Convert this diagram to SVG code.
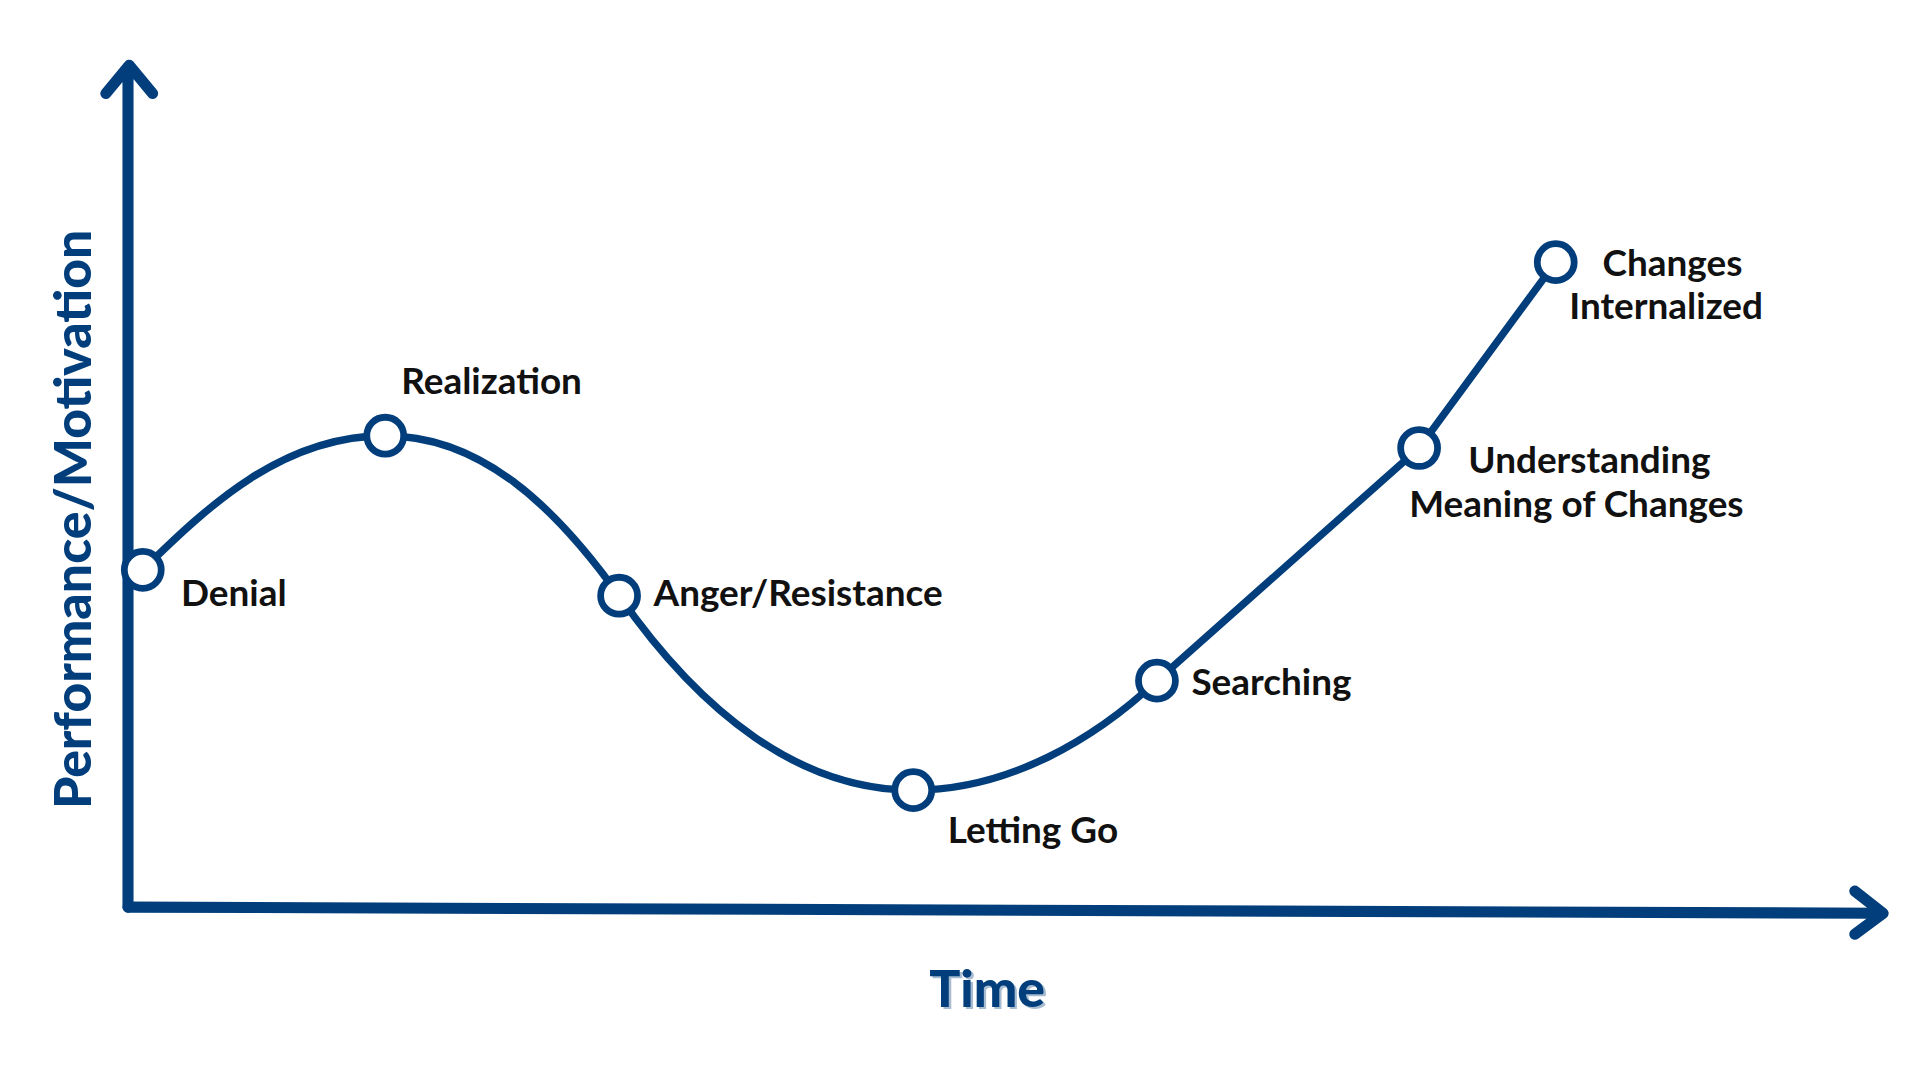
<svg xmlns="http://www.w3.org/2000/svg" width="1920" height="1080" viewBox="0 0 1920 1080">
<style>
.ax{fill:none;stroke:#023e7b;stroke-width:9;stroke-linecap:round;stroke-linejoin:round}
.cv{fill:none;stroke:#023e7b;stroke-width:6}
.pt{fill:#fff;stroke:#023e7b;stroke-width:5.5}
.lb{font-family:Lato,"Open Sans",sans-serif;font-weight:bold;font-size:30px;fill:#111}
.ti{font-family:Lato,"Open Sans",sans-serif;font-weight:900;font-size:42px;fill:#023e7b}
</style>
<rect width="1920" height="1080" fill="#fff"/>
<g transform="scale(1.2308)">
<g id="axes">
<path class="ax" d="M104,737 L104,56 M86,76 L105,53 L124,76"/>
<path class="ax" d="M104,737 L1528,742 M1507,724 L1530,742 L1507,759"/>
</g>
<g id="connectors">
<path class="cv" d="M116,463 C170,410 230,354 313,354 C390,354 450,410 503,484 C570,580 650,642 742,642 C820,642 890,600 940,553 L1153,364 L1264,213"/>
</g>
<g id="denial"><circle class="pt" cx="116" cy="463" r="15"/><text class="lb" x="147" y="492">Denial</text></g>
<g id="realization"><circle class="pt" cx="313" cy="354" r="15"/><text class="lb" x="326" y="320">Realization</text></g>
<g id="anger"><circle class="pt" cx="503" cy="484" r="15"/><text class="lb" x="531" y="492">Anger/Resistance</text></g>
<g id="letting"><circle class="pt" cx="742" cy="642" r="15"/><text class="lb" x="770" y="685">Letting Go</text></g>
<g id="searching"><circle class="pt" cx="940" cy="553" r="15"/><text class="lb" x="968" y="565">Searching</text></g>
<g id="understanding"><circle class="pt" cx="1153" cy="364" r="15"/><text class="lb" x="1193" y="384">Understanding</text><text class="lb" x="1145" y="420">Meaning of Changes</text></g>
<g id="changes"><circle class="pt" cx="1264" cy="213" r="15"/><text class="lb" x="1302" y="224">Changes</text><text class="lb" x="1275" y="259">Internalized</text></g>
<g id="labels">
<text class="ti" x="804" y="820" text-anchor="middle" fill-opacity="0.35" fill="#6a8fc0">Time</text>
<text class="ti" x="802" y="818" text-anchor="middle">Time</text>
<text class="ti" transform="translate(74,422) rotate(-90)" text-anchor="middle">Performance/Motivation</text>
</g>
</g>
</svg>
